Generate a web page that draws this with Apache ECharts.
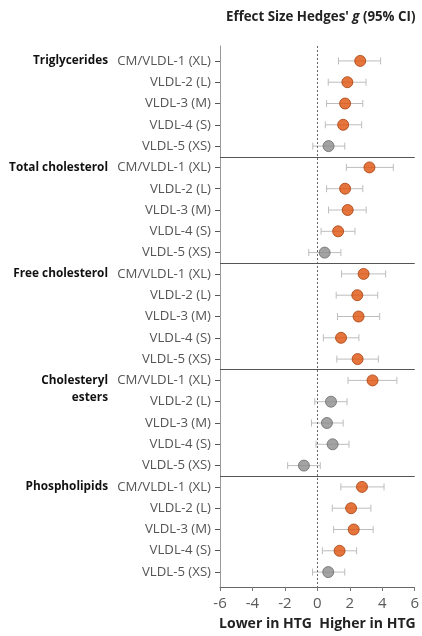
<!DOCTYPE html>
<html>
<head>
<meta charset="utf-8">
<script src="https://cdn.jsdelivr.net/npm/echarts@6/dist/echarts.min.js"></script>
<style>html,body{margin:0;padding:0;background:#fff}#c{width:422px;height:636px}</style>
</head>
<body>
<div id="c"></div>
<script>
// ---- data ----
var groups = ['Triglycerides', 'Total cholesterol', 'Free cholesterol', 'Cholesteryl\nesters', 'Phospholipids'];
var subclasses = ['CM/VLDL-1 (XL)', 'VLDL-2 (L)', 'VLDL-3 (M)', 'VLDL-4 (S)', 'VLDL-5 (XS)'];
var estimate = [
  2.64, 1.85, 1.71, 1.59, 0.69,
  3.21, 1.71, 1.87, 1.28, 0.45,
  2.85, 2.46, 2.54, 1.46, 2.48,
  3.40, 0.84, 0.59, 0.94, -0.83,
  2.75, 2.08, 2.24, 1.37, 0.67
];
var ciLow = [
  1.30, 0.67, 0.57, 0.49, -0.28,
  1.79, 0.57, 0.69, 0.23, -0.53,
  1.49, 1.16, 1.24, 0.37, 1.20,
  1.89, -0.16, -0.36, -0.08, -1.83,
  1.45, 0.92, 1.00, 0.31, -0.30
];
var ciHigh = [
  3.90, 3.00, 2.80, 2.73, 1.69,
  4.68, 2.80, 3.01, 2.32, 1.45,
  4.21, 3.72, 3.84, 2.56, 3.76,
  4.90, 1.83, 1.59, 1.95, 0.18,
  4.11, 3.30, 3.44, 2.42, 1.69
];
var xTicks = [-6, -4, -2, 0, 2, 4, 6];

// ---- build ----
var rowLabels = [], groupLabels = [];
groups.forEach(function (g) {
  subclasses.forEach(function (s, si) {
    rowLabels.push(s);
    // multi-line names get an empty leading line so that the first line sits on the row
    groupLabels.push(si === 0 ? (g.indexOf('\n') >= 0 ? ' \n' + g : g) : '');
  });
});
var n = rowLabels.length;
var pts = [], bars = [];
for (var i = 0; i < n; i++) {
  var sig = ciLow[i] > 0 || ciHigh[i] < 0;
  pts.push({
    value: [estimate[i], i],
    itemStyle: sig ? { color: '#e0520c', borderColor: '#a53e0b', borderWidth: 1 }
                   : { color: '#8c8c8c', borderColor: '#6a6a6a', borderWidth: 1 }
  });
  bars.push([ciLow[i], ciHigh[i], i]);
}
var seps = [];
for (var g = 1; g < groups.length; g++) seps.push({ yAxis: g * subclasses.length - 0.5 });

var FONT = 'Open Sans';
var chart = echarts.init(document.getElementById('c'), null, { renderer: 'canvas' });
chart.setOption({
  animation: false,
  textStyle: { fontFamily: FONT },
  title: {
    text: "{b|Effect Size Hedges' }{i|g}{b| (95% CI)}",
    left: 221, top: 6,
    textStyle: {
      rich: {
        b: { fontFamily: FONT, fontWeight: 'bold', fontSize: 13.3, color: '#222' },
        i: { fontFamily: FONT, fontWeight: 'bold', fontStyle: 'italic', fontSize: 13.3, color: '#222' }
      }
    }
  },
  grid: [
    { left: 220, right: 5, top: 46, bottom: 49 },
    { left: 220, right: 5, top: 50.35, bottom: 53.35 }
  ],
  xAxis: [
    {
      gridIndex: 0, type: 'value', position: 'bottom', min: xTicks[0], max: xTicks[xTicks.length - 1], interval: 2,
      axisLine: { show: true, onZero: false, lineStyle: { color: '#666', width: 1 } },
      axisTick: { show: true, length: 4, lineStyle: { color: '#777' } },
      axisLabel: { fontSize: 15, color: '#595959', margin: 9, fontFamily: FONT },
      splitLine: { show: false },
      name: 'Lower in HTG  Higher in HTG', nameLocation: 'middle', nameGap: 30,
      nameTextStyle: { fontFamily: FONT, fontWeight: 'bold', fontSize: 14, color: '#222' }
    },
    {
      gridIndex: 1, type: 'value', position: 'bottom', min: -6, max: 6,
      axisLine: { show: false, onZero: false }, axisTick: { show: false },
      axisLabel: { show: false }, splitLine: { show: false }
    }
  ],
  yAxis: [
    {
      gridIndex: 0, type: 'value', position: 'left', min: -0.7, max: n - 1 + 0.7, inverse: true,
      axisLine: { show: true, onZero: false, lineStyle: { color: '#999', width: 1 } },
      axisTick: { show: false }, axisLabel: { show: false }, splitLine: { show: false }
    },
    {
      gridIndex: 1, type: 'category', position: 'left', offset: 0, data: rowLabels, inverse: true,
      axisLine: { show: false, onZero: false },
      axisTick: { show: true, length: 5, alignWithLabel: true, lineStyle: { color: '#555' } },
      axisLabel: { fontSize: 13.2, color: '#555', margin: 9, fontFamily: FONT, interval: 0 },
      splitLine: { show: false }
    },
    {
      gridIndex: 1, type: 'category', position: 'left', offset: 0, data: groupLabels, inverse: true,
      axisLine: { show: false, onZero: false }, axisTick: { show: false },
      axisLabel: { fontSize: 11.8, lineHeight: 17, color: '#111', fontWeight: 'bold', margin: 112, fontFamily: FONT, interval: 0 },
      splitLine: { show: false }
    }
  ],
  series: [
    {
      type: 'custom', xAxisIndex: 0, yAxisIndex: 0, data: bars, z: 2,
      renderItem: function (params, api) {
        var a = api.coord([api.value(0), api.value(2)]);
        var b = api.coord([api.value(1), api.value(2)]);
        var h = 3.5;
        var st = { stroke: '#bdbdbd', lineWidth: 1 };
        return {
          type: 'group', children: [
            { type: 'line', shape: { x1: a[0], y1: a[1], x2: b[0], y2: b[1] }, style: st },
            { type: 'line', shape: { x1: a[0], y1: a[1] - h, x2: a[0], y2: a[1] + h }, style: st },
            { type: 'line', shape: { x1: b[0], y1: b[1] - h, x2: b[0], y2: b[1] + h }, style: st }
          ]
        };
      }
    },
    {
      type: 'scatter', xAxisIndex: 0, yAxisIndex: 0, data: pts, symbolSize: 11, z: 4,
      markLine: {
        silent: true, symbol: 'none', label: { show: false },
        data: [{ xAxis: 0, lineStyle: { type: [2, 2], color: '#666', width: 1 } }].concat(
          seps.map(function (s) { return { yAxis: s.yAxis, lineStyle: { type: 'solid', color: '#555', width: 1 } }; }))
      }
    }
  ]
});
</script>
</body>
</html>
